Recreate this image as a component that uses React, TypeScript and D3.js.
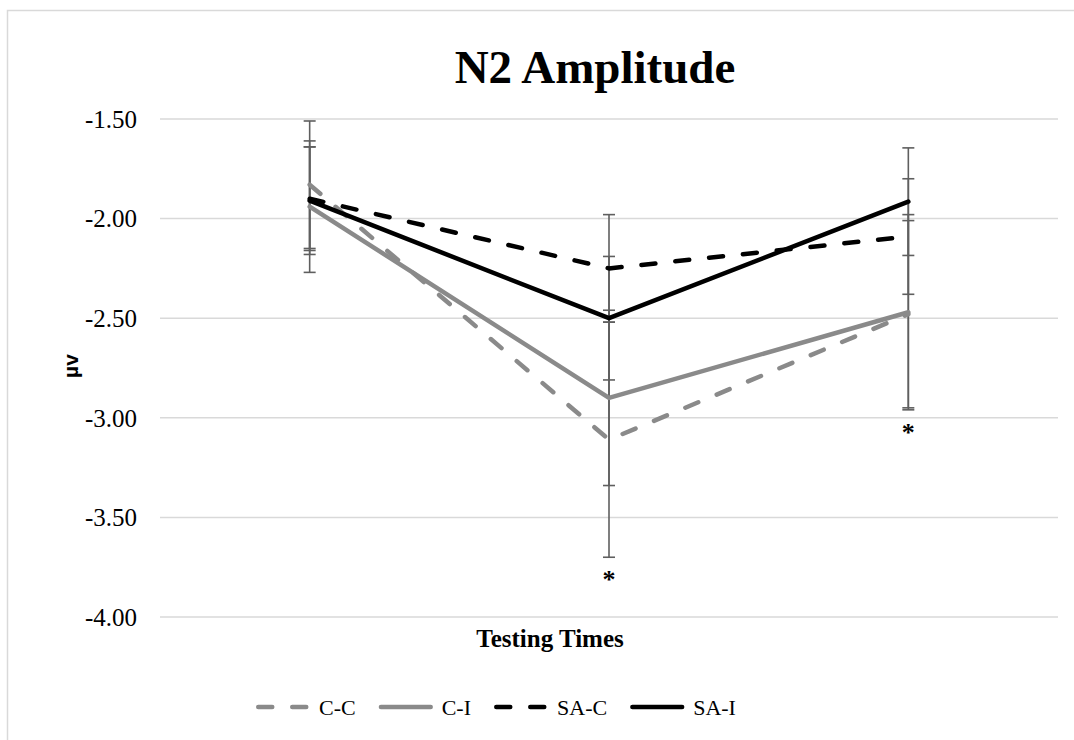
import React, { useEffect, useRef } from "react";
import * as d3 from "d3";

// testing times (no tick labels are shown on the x axis)
const times = ["T1", "T2", "T3"];

// means and error (± SE) per group
const ccMean = [-1.83, -3.11, -2.48];
const ccErr = [0.32, 0.59, 0.47];
const ciMean = [-1.94, -2.9, -2.47];
const ciErr = [0.33, 0.44, 0.49];
const sacMean = [-1.9, -2.25, -2.09];
const sacErr = [0.26, 0.27, 0.29];
const saiMean = [-1.91, -2.5, -1.915];
const saiErr = [0.27, 0.31, 0.27];

// significance markers per testing time
const sigMarks = [false, true, true];

const yTicks = [-1.5, -2.0, -2.5, -3.0, -3.5, -4.0];

const series = [
  { name: "C-C", mean: ccMean, err: ccErr, color: "#8a8a8a", dashed: true },
  { name: "C-I", mean: ciMean, err: ciErr, color: "#8a8a8a", dashed: false },
  { name: "SA-C", mean: sacMean, err: sacErr, color: "#000000", dashed: true },
  { name: "SA-I", mean: saiMean, err: saiErr, color: "#000000", dashed: false },
];

const serif = "'Liberation Serif', 'Times New Roman', serif";
const sans = "'Liberation Sans', Arial, sans-serif";

// Excel style labels use a plain hyphen, not the unicode minus
const fmt = (v: number) => v.toFixed(2);

const App = () => {
  const ref = useRef<SVGSVGElement>(null);

  useEffect(() => {
    const svg = d3.select(ref.current);
    svg.selectAll("*").remove();

    const left = 160;
    const right = 1058;
    const top = 119;
    const bottom = 617;

    const x = d3.scalePoint().domain(times).range([left, right]).padding(0.5);
    const y = d3.scaleLinear().domain([-4, -1.5]).range([bottom, top]);

    // chart border
    svg
      .append("rect")
      .attr("x", 7.5)
      .attr("y", 10.5)
      .attr("width", 1090)
      .attr("height", 760)
      .attr("fill", "#fff")
      .attr("stroke", "#d9d9d9")
      .attr("stroke-width", 1.5);

    // gridlines + tick labels
    const grid = svg.append("g");
    grid
      .selectAll("line")
      .data(yTicks)
      .join("line")
      .attr("x1", left)
      .attr("x2", right)
      .attr("y1", (d) => y(d))
      .attr("y2", (d) => y(d))
      .attr("stroke", "#d9d9d9")
      .attr("stroke-width", 1.5);
    grid
      .selectAll("text")
      .data(yTicks)
      .join("text")
      .attr("x", 137)
      .attr("y", (d) => y(d))
      .attr("dy", "0.35em")
      .attr("text-anchor", "end")
      .attr("font-family", serif)
      .attr("font-size", 25)
      .text((d) => fmt(d));

    // error bars
    const eb = svg.append("g").attr("stroke", "#5f5f5f").attr("stroke-width", 1.6);
    series.forEach((s) => {
      s.mean.forEach((m, i) => {
        const cx = x(times[i])!;
        const hi = y(m + s.err[i]);
        const lo = y(m - s.err[i]);
        eb.append("line").attr("x1", cx).attr("x2", cx).attr("y1", hi).attr("y2", lo);
        eb.append("line").attr("x1", cx - 6).attr("x2", cx + 6).attr("y1", hi).attr("y2", hi);
        eb.append("line").attr("x1", cx - 6).attr("x2", cx + 6).attr("y1", lo).attr("y2", lo);
      });
    });

    // lines
    const line = d3
      .line<number>()
      .x((_, i) => x(times[i])!)
      .y((d) => y(d));
    series.forEach((s) => {
      svg
        .append("path")
        .attr("d", line(s.mean))
        .attr("fill", "none")
        .attr("stroke", s.color)
        .attr("stroke-width", 4.5)
        .attr("stroke-linecap", "round")
        .attr("stroke-linejoin", "round")
        .attr("stroke-dasharray", s.dashed ? "14 20" : null);
    });

    // significance asterisks below the lowest error bar
    times.forEach((t, i) => {
      if (!sigMarks[i]) return;
      const lowest = d3.min(series, (s) => s.mean[i] - s.err[i])!;
      svg
        .append("text")
        .attr("x", x(t)!)
        .attr("y", y(lowest) + 31)
        .attr("text-anchor", "middle")
        .attr("font-family", serif)
        .attr("font-weight", "bold")
        .attr("font-size", 26)
        .text("*");
    });

    // title & axis labels
    svg
      .append("text")
      .attr("x", 595)
      .attr("y", 83)
      .attr("text-anchor", "middle")
      .attr("font-family", serif)
      .attr("font-weight", "bold")
      .attr("font-size", 47)
      .text("N2 Amplitude");

    svg
      .append("text")
      .attr("x", 550)
      .attr("y", 647)
      .attr("text-anchor", "middle")
      .attr("font-family", serif)
      .attr("font-weight", "bold")
      .attr("font-size", 25)
      .text("Testing Times");

    svg
      .append("text")
      .attr("transform", "translate(78,366) rotate(-90)")
      .attr("text-anchor", "middle")
      .attr("font-family", sans)
      .attr("font-weight", "bold")
      .attr("font-size", 21)
      .text("µv");

    // legend
    const legend = svg.append("g");
    let lx = 256;
    const ly = 707;
    series.forEach((s) => {
      legend
        .append("line")
        .attr("x1", lx + 2.25)
        .attr("x2", lx + 52)
        .attr("y1", ly)
        .attr("y2", ly)
        .attr("stroke", s.color)
        .attr("stroke-width", 4.5)
        .attr("stroke-linecap", "round")
        .attr("stroke-dasharray", s.dashed ? "14 20" : null);
      const txt = legend
        .append("text")
        .attr("x", lx + 63)
        .attr("y", ly)
        .attr("dy", "0.35em")
        .attr("font-family", serif)
        .attr("font-size", 22)
        .text(s.name);
      const w = (txt.node() as SVGTextElement).getComputedTextLength();
      lx = lx + 63 + w + 23;
    });
  }, []);

  return (
    <svg
      ref={ref}
      width={1074}
      height={740}
      style={{ position: "absolute", left: 0, top: 0, background: "#fff" }}
    />
  );
};

export default App;
